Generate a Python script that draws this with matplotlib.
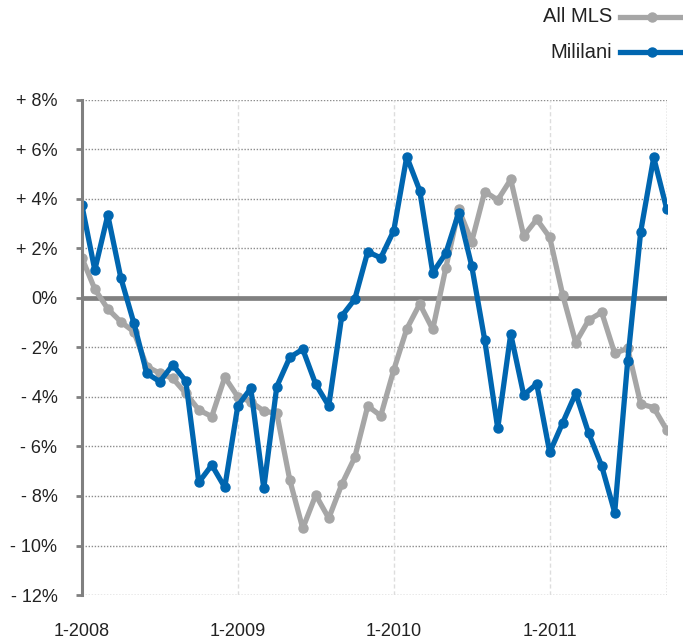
import matplotlib
matplotlib.use('Agg')
import matplotlib.pyplot as plt
from matplotlib.lines import Line2D
import numpy as np

plt.rcParams['font.family'] = ['Liberation Sans', 'DejaVu Sans']

# monthly change, Jan 2008 .. Oct 2011 (46 months)
all_mls = [1.63, 0.36, -0.44, -0.96, -1.36, -2.77, -3.04, -3.25, -3.85, -4.52,
           -4.79, -3.2, -3.99, -4.19, -4.57, -4.66, -7.35, -9.31, -7.96, -8.9,
           -7.53, -6.44, -4.36, -4.76, -2.91, -1.25, -0.24, -1.27, 1.2, 3.58,
           2.28, 4.3, 3.96, 4.79, 2.51, 3.18, 2.45, 0.12, -1.8, -0.89,
           -0.58, -2.24, -2.03, -4.28, -4.43, -5.33]
mililani = [3.77, 1.13, 3.35, 0.82, -1.0, -3.04, -3.38, -2.7, -3.35, -7.45,
            -6.75, -7.65, -4.36, -3.65, -7.69, -3.58, -2.4, -2.07, -3.49, -4.36,
            -0.73, -0.05, 1.87, 1.62, 2.72, 5.71, 4.34, 1.02, 1.8, 3.45,
            1.29, -1.7, -5.27, -1.45, -3.92, -3.47, -6.24, -5.04, -3.85, -5.47,
            -6.79, -8.67, -2.53, 2.68, 5.68, 3.6]
months = np.arange(len(all_mls))

year_ticks = [0, 12, 24, 36]
year_labels = ['1-2008', '1-2009', '1-2010', '1-2011']
y_ticks = [8, 6, 4, 2, 0, -2, -4, -6, -8, -10, -12]
y_labels = ['+ 8%', '+ 6%', '+ 4%', '+ 2%', '0%', '- 2%', '- 4%', '- 6%',
            '- 8%', '- 10%', '- 12%']

gray = '#a6a6a6'
blue = '#0066b0'
axis_gray = '#808080'

fig = plt.figure(figsize=(6.83, 6.39), dpi=100)
ax = fig.add_axes([81.8 / 683, 1 - 595 / 639, (666.7 - 81.8) / 683, (595 - 100) / 639])

ax.set_xlim(0, 45)
ax.set_ylim(-12, 8)

# grid
for yv in y_ticks:
    if yv != 0:
        ax.axhline(yv, color='#8c8c8c', lw=1.0, ls=(0, (1, 1.2)), zorder=1)
for xv in year_ticks[1:]:
    ax.axvline(xv, color='#dddddd', lw=1.0, ls=(0, (3, 2)), zorder=1)
ax.axvline(45, color='#8c8c8c', lw=1.0, ls=(0, (1, 1.2)), zorder=1)
ax.axhline(0, color=axis_gray, lw=3.4, zorder=2)

ax.plot(months, all_mls, color=gray, lw=3.8, marker='o', ms=6.5, zorder=3)
ax.plot(months, mililani, color=blue, lw=3.8, marker='o', ms=6.5, zorder=4)

for s in ['top', 'right', 'bottom']:
    ax.spines[s].set_visible(False)
ax.spines['left'].set_color(axis_gray)
ax.spines['left'].set_linewidth(2.2)
ax.spines['left'].set_zorder(5)

ax.set_yticks(y_ticks)
ax.set_yticklabels(y_labels)
ax.set_xticks(year_ticks)
ax.set_xticklabels(year_labels)
ax.tick_params(axis='y', length=4.5, width=2, color=axis_gray, labelsize=13,
               pad=13, labelcolor='#222222')
ax.tick_params(axis='x', length=0, labelsize=13, pad=20, labelcolor='#222222')

# legend, drawn at top right
for label, col, ypx in [('All MLS', gray, 17), ('Mililani', blue, 52)]:
    yf = 1 - ypx / 639
    fig.text(612 / 683, yf, label, ha='right', va='center', fontsize=14.5,
             color='#222222')
    fig.add_artist(Line2D([620 / 683, 683 / 683], [yf, yf], color=col, lw=3.8,
                          transform=fig.transFigure))
    fig.add_artist(Line2D([652 / 683], [yf], color=col, marker='o', ms=6.5,
                          transform=fig.transFigure))

fig.savefig('out.png', dpi=100)
